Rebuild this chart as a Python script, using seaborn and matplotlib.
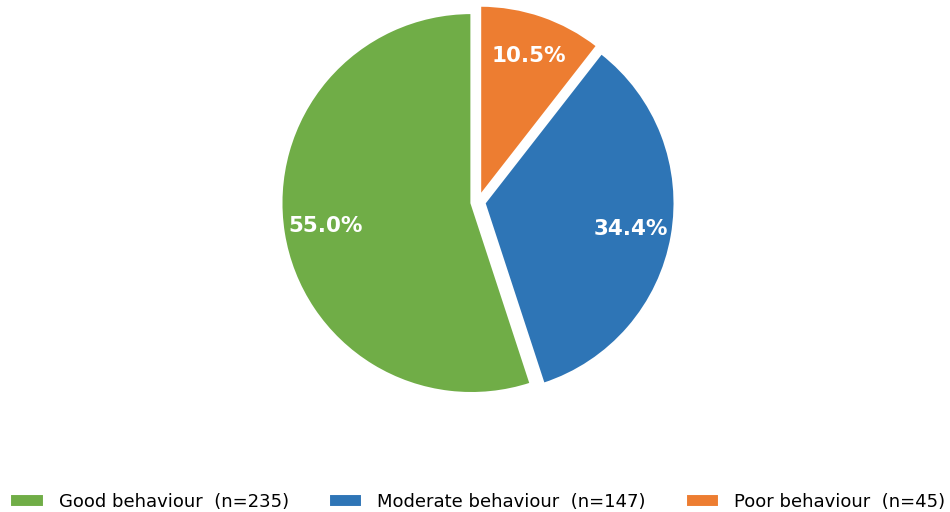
import matplotlib
matplotlib.use("Agg")
import matplotlib.pyplot as plt
import seaborn as sns

sns.set_theme(style="white")
plt.rcParams['font.family'] = ['DejaVu Sans']

categories = ["Good behaviour", "Moderate behaviour", "Poor behaviour"]
counts = [235, 147, 45]
colors = ["#70AD47", "#2E75B6", "#ED7D31"]

labels = [f"{c}  (n={n})" for c, n in zip(categories, counts)]

fig = plt.figure(figsize=(9.5, 5.12), dpi=100)
cx, cy, half = 478, 310, 209
ax = fig.add_axes([(cx - half) / 950, (cy - half) / 512, 2 * half / 950, 2 * half / 512])

wedges, texts, autotexts = ax.pie(
    counts,
    colors=colors,
    startangle=90,
    counterclock=True,
    radius=1.0,
    explode=[0.035, 0.035, 0.035],
    autopct="%1.1f%%",
    pctdistance=0.78,
    wedgeprops=dict(edgecolor="white", linewidth=1.5),
    textprops=dict(color="white", fontsize=15.5, fontweight="bold"),
)
ax.set_xlim(-1.1, 1.1)
ax.set_ylim(-1.1, 1.1)
ax.set_aspect("equal")
ax.axis("off")

leg = fig.legend(
    wedges, labels,
    loc="lower center", bbox_to_anchor=(0.503, -0.03),
    ncol=3, frameon=False, fontsize=13,
    handlelength=1.85, handleheight=0.75, handletextpad=0.85, columnspacing=2.2,
)
for t in leg.get_texts():
    t.set_color("black")

fig.savefig("out.png", dpi=100, facecolor="white")
